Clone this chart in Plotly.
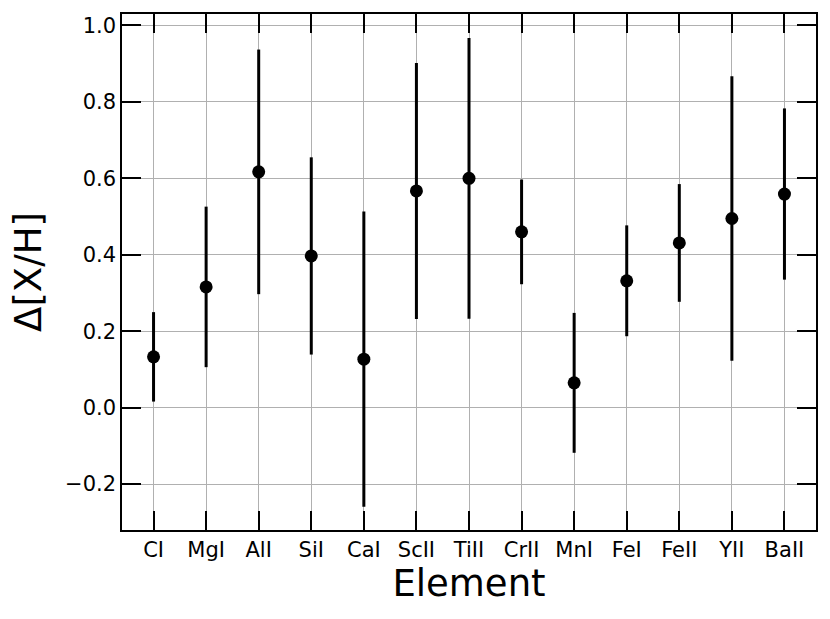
import plotly.graph_objects as go

elements = ["CI", "MgI", "AlI", "SiI", "CaI", "ScII", "TiII", "CrII", "MnI", "FeI", "FeII", "YII", "BaII"]
delta = [0.133, 0.316, 0.617, 0.397, 0.127, 0.567, 0.600, 0.460, 0.065, 0.332, 0.431, 0.495, 0.559]
err = [0.117, 0.210, 0.320, 0.258, 0.386, 0.335, 0.367, 0.137, 0.183, 0.145, 0.154, 0.372, 0.224]
y_ticks = [-0.2, 0.0, 0.2, 0.4, 0.6, 0.8, 1.0]

xi = list(range(len(elements)))

fig = go.Figure()
fig.add_trace(go.Scatter(
    x=xi, y=delta, mode="markers",
    marker=dict(color="black", size=13),
    error_y=dict(type="data", array=err, visible=True, color="black", thickness=3, width=0),
    showlegend=False,
))

font = "DejaVu Sans"
fig.update_layout(
    width=830, height=619,
    margin=dict(l=122, r=14, t=14, b=89, autoexpand=False),
    paper_bgcolor="white", plot_bgcolor="white",
    font=dict(family=font, color="black"),
    xaxis=dict(
        range=[-0.6, len(elements) - 1 + 0.6],
        tickvals=xi, ticktext=elements,
        ticks="inside", ticklen=19, tickwidth=1.5, tickcolor="black",
        mirror="ticks", showline=True, linecolor="black", linewidth=1.5,
        showgrid=True, gridcolor="#b0b0b0", gridwidth=1,
        zeroline=False, automargin=False,
        tickfont=dict(size=21, family=font),
        title=dict(text="Element", font=dict(size=37, family=font), standoff=6),
    ),
    yaxis=dict(
        range=[-0.32, 1.03],
        tickvals=y_ticks, tickformat=".1f",
        ticks="inside", ticklen=19, tickwidth=1.5, tickcolor="black",
        mirror="ticks", showline=True, linecolor="black", linewidth=1.5,
        showgrid=True, gridcolor="#b0b0b0", gridwidth=1,
        zeroline=False, automargin=False,
        tickfont=dict(size=21, family=font),
        title=dict(text="Δ[X/H]", font=dict(size=37, family=font), standoff=12),
    ),
)

fig.write_html(
    "out.html",
    config={"displayModeBar": False},
    post_script="document.body.style.margin='0';document.body.style.overflow='hidden';",
)
